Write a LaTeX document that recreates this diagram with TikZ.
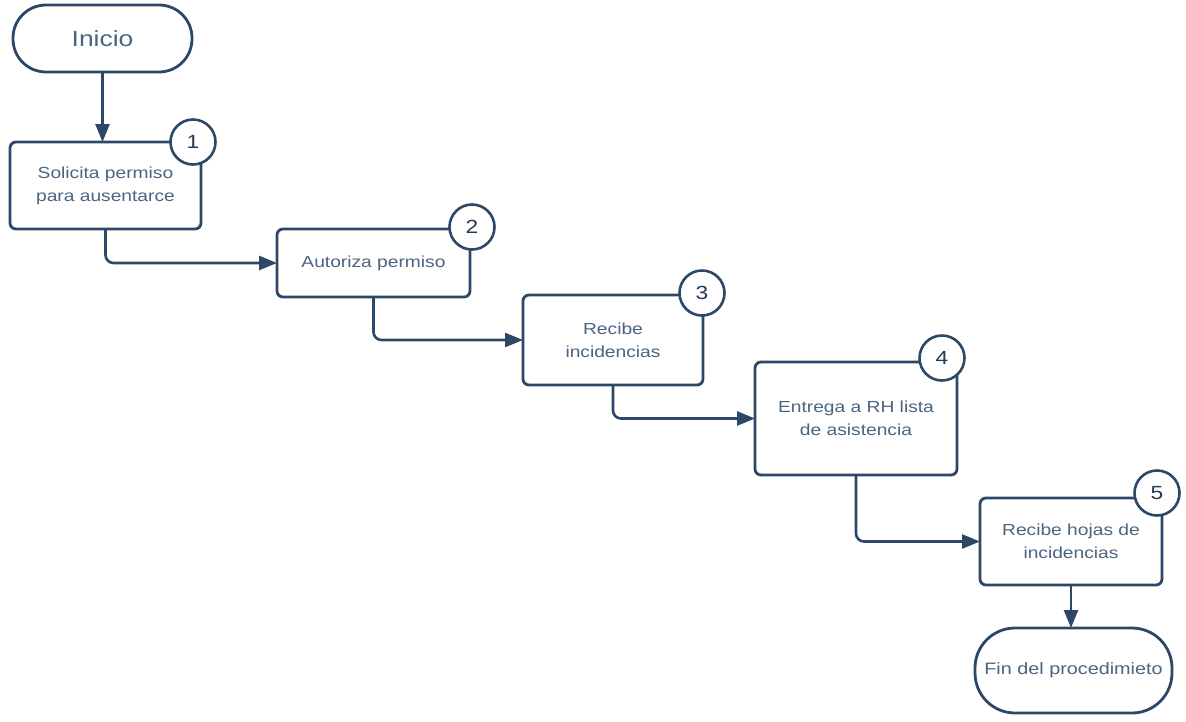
\documentclass[tikz,border=0pt]{standalone}
\usepackage{fontspec}
\setmainfont[FakeStretch=1.2]{Liberation Sans}
\usetikzlibrary{arrows.meta}
\definecolor{edge}{HTML}{2C4866}
\definecolor{label}{HTML}{4A6580}
\begin{document}
\begin{tikzpicture}[x=1pt,y=-1pt,
  every node/.style={inner sep=0pt,outer sep=0pt},
  terminal/.style={draw=edge,line width=2.8pt,fill=white,rounded corners=33pt,
    text=label,font=\fontsize{16.5}{22}\selectfont,align=center},
  stepbox/.style={draw=edge,line width=2.8pt,fill=white,rounded corners=6pt,
    text=label,font=\fontsize{16}{23}\selectfont,align=center},
  badge/.style={draw=edge,line width=2.6pt,fill=white,circle,minimum size=45pt,
    text=edge!80!black,font=\fontsize{19}{19}\selectfont},
  flow/.style={draw=edge,line width=2.6pt,rounded corners=8pt,
    -{Triangle[length=18pt,width=14pt]}}]
\useasboundingbox (0,0) rectangle (1186,721);

% start and end terminals
\node[terminal,minimum width=179pt,minimum height=67pt,font=\fontsize{22}{24}\selectfont]
  (ini) at (102.5,38.5) {Inicio};
\node[terminal,minimum width=197pt,minimum height=85pt,rounded corners=40pt]
  (fin) at (1073.5,670.5) {Fin del procedimieto};

% process steps
\node[stepbox,minimum width=191pt,minimum height=87pt] (s1) at (105.5,185.5)
  {Solicita permiso\\para ausentarce};
\node[stepbox,minimum width=193pt,minimum height=68pt] (s2) at (373.5,263)
  {Autoriza permiso};
\node[stepbox,minimum width=180pt,minimum height=90pt] (s3) at (613,340)
  {Recibe\\incidencias};
\node[stepbox,minimum width=202pt,minimum height=113pt] (s4) at (856,418.5)
  {Entrega a RH lista\\de asistencia};
\node[stepbox,minimum width=182pt,minimum height=87pt] (s5) at (1071,541.5)
  {Recibe hojas de\\incidencias};

% connectors
\draw[flow] (ini.south) -- (s1.north -| ini.south);
\draw[flow] (s1.south) |- (s2.west);
\draw[flow] (s2.south) |- (s3.west);
\draw[flow] (s3.south) |- (s4.west);
\draw[flow] (s4.south) |- (s5.west);
\draw[flow] (s5.south) -- (fin.north -| s5.south);

% step numbers
\node[badge] (n1) at (193,142) {1};
\node[badge] (n2) at (472,227) {2};
\node[badge] (n3) at (702,293) {3};
\node[badge] (n4) at (942,358) {4};
\node[badge] (n5) at (1157,493) {5};
\end{tikzpicture}
\end{document}
